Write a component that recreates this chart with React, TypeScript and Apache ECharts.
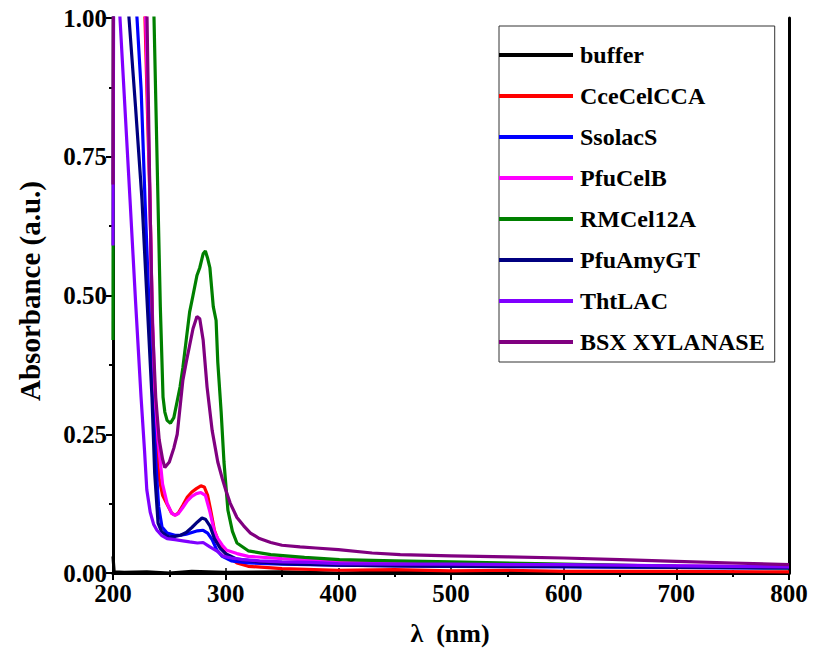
import React, { useEffect, useRef } from "react";
import * as echarts from "echarts";

const seriesNames = ["buffer", "CceCelCCA", "SsolacS", "PfuCelB", "RMCel12A", "PfuAmyGT", "ThtLAC", "BSX XYLANASE"];
const seriesColors = ["#000000", "#FF0000", "#0000FF", "#FF00FF", "#008000", "#000080", "#8000FF", "#800080"];

const xTicks = [200, 300, 400, 500, 600, 700, 800];
const yTicks = [0, 0.25, 0.5, 0.75, 1.0];

const buffer = [[200, 0.03], [201, 0.002], [210, 0.001], [230, 0.002], [250, 0.0], [270, 0.003], [300, 0.001], [350, 0.002], [400, 0.0], [450, 0.002], [500, 0.001], [600, 0.001], [700, 0.0], [800, 0.001]];

const cceCelCCA = [[200, 2.5], [225, 1.15], [228.4, 1.0], [231, 0.8], [232.8, 0.673], [236.2, 0.317], [238, 0.24], [241, 0.17], [244, 0.14], [248, 0.124], [252, 0.108], [255, 0.104], [258, 0.108], [262, 0.122], [266, 0.137], [270, 0.146], [274, 0.152], [278, 0.157], [281, 0.155], [284, 0.14], [287, 0.11], [290, 0.077], [294, 0.055], [298, 0.04], [303, 0.028], [310, 0.018], [320, 0.012], [350, 0.008], [400, 0.005], [450, 0.006], [500, 0.004], [550, 0.005], [600, 0.003], [700, 0.003], [800, 0.002]];

const ssolacS = [[200, 2.0], [215, 1.2], [221.3, 1.0], [225, 0.87], [228.4, 0.673], [232, 0.48], [235.5, 0.317], [238, 0.2], [240.5, 0.12], [243.5, 0.083], [248, 0.072], [255, 0.068], [260, 0.068], [265, 0.07], [270, 0.073], [275, 0.076], [280, 0.077], [284, 0.072], [288, 0.06], [292, 0.042], [297, 0.03], [305, 0.022], [320, 0.018], [350, 0.016], [400, 0.014], [500, 0.012], [600, 0.011], [700, 0.01], [800, 0.009]];

const pfuCelB = [[200, 2.5], [226, 1.15], [229, 1.0], [232, 0.75], [234.5, 0.5], [237, 0.33], [240, 0.24], [244, 0.16], [248, 0.126], [252, 0.108], [255, 0.104], [258, 0.107], [262, 0.118], [266, 0.13], [270, 0.138], [274, 0.143], [278, 0.145], [282, 0.14], [286, 0.11], [290, 0.075], [293, 0.062], [297, 0.05], [301, 0.041], [310, 0.035], [320, 0.03], [350, 0.026], [400, 0.021], [450, 0.019], [500, 0.017], [600, 0.015], [700, 0.013], [800, 0.011]];

const rmCel12A = [[200, 0.42], [201, 2.5], [230, 1.4], [236.4, 1.0], [238, 0.85], [239.9, 0.673], [242, 0.48], [244.4, 0.317], [246, 0.29], [248, 0.275], [251, 0.27], [254, 0.28], [257, 0.31], [259.5, 0.335], [262, 0.37], [265, 0.42], [268, 0.47], [271, 0.5], [274.5, 0.536], [277, 0.55], [280, 0.575], [282, 0.58], [284, 0.567], [286, 0.55], [289, 0.48], [291.5, 0.455], [293, 0.38], [296, 0.29], [298.5, 0.2], [302, 0.113], [306, 0.075], [310, 0.054], [320, 0.04], [340, 0.033], [370, 0.028], [401, 0.024], [450, 0.022], [500, 0.02], [600, 0.016], [700, 0.012], [800, 0.009]];

const pfuAmyGT = [[200, 1.6], [210, 1.2], [214.2, 1.0], [220, 0.84], [225.7, 0.673], [230, 0.5], [234.6, 0.317], [237, 0.18], [240, 0.09], [243, 0.075], [247, 0.068], [250, 0.065], [255, 0.066], [260, 0.068], [265, 0.073], [270, 0.082], [275, 0.092], [279, 0.099], [282, 0.097], [286, 0.085], [290, 0.062], [295, 0.045], [300, 0.035], [310, 0.025], [330, 0.02], [350, 0.017], [400, 0.014], [450, 0.013], [500, 0.012], [600, 0.012], [700, 0.01], [800, 0.009]];

const thtLAC = [[200, 0.59], [201, 1.4], [204, 1.1], [206.2, 1.0], [210, 0.86], [215.1, 0.673], [220, 0.49], [224.9, 0.317], [228, 0.22], [230, 0.15], [233, 0.11], [236, 0.088], [239, 0.077], [243, 0.068], [248, 0.062], [255, 0.06], [262, 0.058], [268, 0.056], [275, 0.054], [280, 0.055], [286, 0.047], [292, 0.04], [298, 0.03], [305, 0.027], [315, 0.024], [330, 0.022], [350, 0.02], [375, 0.019], [400, 0.017], [450, 0.016], [500, 0.016], [550, 0.015], [600, 0.015], [650, 0.014], [700, 0.013], [750, 0.012], [800, 0.011]];

const bsxXylanase = [[200, 0.7], [201, 2.2], [225, 1.3], [230.2, 1.0], [232.8, 0.673], [235, 0.45], [237.9, 0.317], [241, 0.24], [244, 0.205], [246, 0.19], [250, 0.2], [254, 0.225], [257, 0.25], [262, 0.347], [265, 0.38], [268, 0.41], [271, 0.44], [274.5, 0.462], [277, 0.458], [280, 0.42], [283.5, 0.335], [288, 0.257], [293, 0.2], [297, 0.17], [300, 0.15], [304, 0.126], [310, 0.1], [316, 0.085], [322, 0.072], [330, 0.062], [340, 0.055], [350, 0.05], [366, 0.047], [380, 0.045], [400, 0.042], [430, 0.036], [455, 0.033], [500, 0.031], [550, 0.029], [600, 0.027], [650, 0.024], [700, 0.021], [750, 0.018], [800, 0.015]];

const allData = [buffer, cceCelCCA, ssolacS, pfuCelB, rmCel12A, pfuAmyGT, thtLAC, bsxXylanase];

const FONT = "'Liberation Serif', 'Times New Roman', serif";

export default function App() {
  const ref = useRef<HTMLDivElement>(null);
  useEffect(() => {
    if (!ref.current) return;
    const chart = echarts.init(ref.current, null, { renderer: "svg" });
    const labelStyle = { color: "#000", fontSize: 25, fontWeight: "bold" as const, fontFamily: FONT };
    chart.setOption({
      animation: false,
      backgroundColor: "#fff",
      grid: { left: 113, right: 25, top: 18, bottom: 75 },
      xAxis: [
        {
          type: "value", min: xTicks[0], max: xTicks[xTicks.length - 1], interval: 100,
          position: "bottom",
          axisLine: { show: true, lineStyle: { color: "#000", width: 3 } },
          axisTick: { show: true, inside: false, length: 7, lineStyle: { width: 2, color: "#000" } },
          minorTick: { show: true, splitNumber: 2, length: 4, lineStyle: { width: 2, color: "#000" } },
          axisLabel: { ...labelStyle, margin: 8 },
          splitLine: { show: false },
        },
        {
          type: "value", min: xTicks[0], max: xTicks[xTicks.length - 1], interval: 100,
          position: "top",
          axisLine: { show: true, lineStyle: { color: "#000", width: 3 } },
          axisTick: { show: true, inside: false, length: 5, lineStyle: { width: 1.5, color: "#000" } },
          minorTick: { show: true, splitNumber: 2, length: 3, lineStyle: { width: 1.5, color: "#000" } },
          axisLabel: { show: false },
          splitLine: { show: false },
        },
      ],
      yAxis: [
        {
          type: "value", min: yTicks[0], max: yTicks[yTicks.length - 1], interval: 0.25,
          position: "left",
          axisLine: { show: true, lineStyle: { color: "#000", width: 3 } },
          axisTick: { show: true, inside: false, length: 7, lineStyle: { width: 2, color: "#000" } },
          minorTick: { show: true, splitNumber: 2, length: 4, lineStyle: { width: 2, color: "#000" } },
          axisLabel: { ...labelStyle, margin: 6, formatter: (v: number) => v.toFixed(2) },
          splitLine: { show: false },
        },
        {
          type: "value", min: yTicks[0], max: yTicks[yTicks.length - 1], interval: 0.25,
          position: "right",
          axisLine: { show: true, lineStyle: { color: "#000", width: 3 } },
          axisTick: { show: false },
          axisLabel: { show: false },
          splitLine: { show: false },
        },
      ],
      legend: {
        orient: "vertical",
        left: 499,
        top: 26,
        padding: [17, 10, 8, 0],
        itemGap: 17,
        itemWidth: 74,
        itemHeight: 4,
        icon: "rect",
        borderColor: "#333",
        borderWidth: 1,
        selectedMode: false,
        textStyle: { color: "#000", fontSize: 24, fontWeight: "bold", fontFamily: FONT, lineHeight: 24, padding: [0, 0, 0, 2] },
        data: seriesNames,
      },
      graphic: [
        {
          type: "text",
          x: 30,
          y: 291,
          rotation: Math.PI / 2,
          style: {
            text: "Absorbance (a.u.)",
            x: 0, y: 0,
            align: "center",
            verticalAlign: "middle",
            fill: "#000",
            font: `bold 29px ${FONT}`,
          },
        },
        {
          type: "text",
          x: 450,
          y: 633,
          style: {
            text: "λ  (nm)",
            x: 0, y: 0,
            align: "center",
            verticalAlign: "middle",
            fill: "#000",
            font: `bold 26px ${FONT}`,
          },
        },
      ],
      series: seriesNames.map((name, i) => ({
        name,
        type: "line",
        data: allData[i],
        showSymbol: false,
        symbol: "none",
        clip: true,
        smooth: false,
        lineStyle: { color: seriesColors[i], width: 3.2 },
        itemStyle: { color: seriesColors[i] },
        z: 2 + i,
      })),
    });
    return () => chart.dispose();
  }, []);
  return <div ref={ref} style={{ position: "fixed", left: 0, top: 0, width: 814, height: 648 }} />;
}
